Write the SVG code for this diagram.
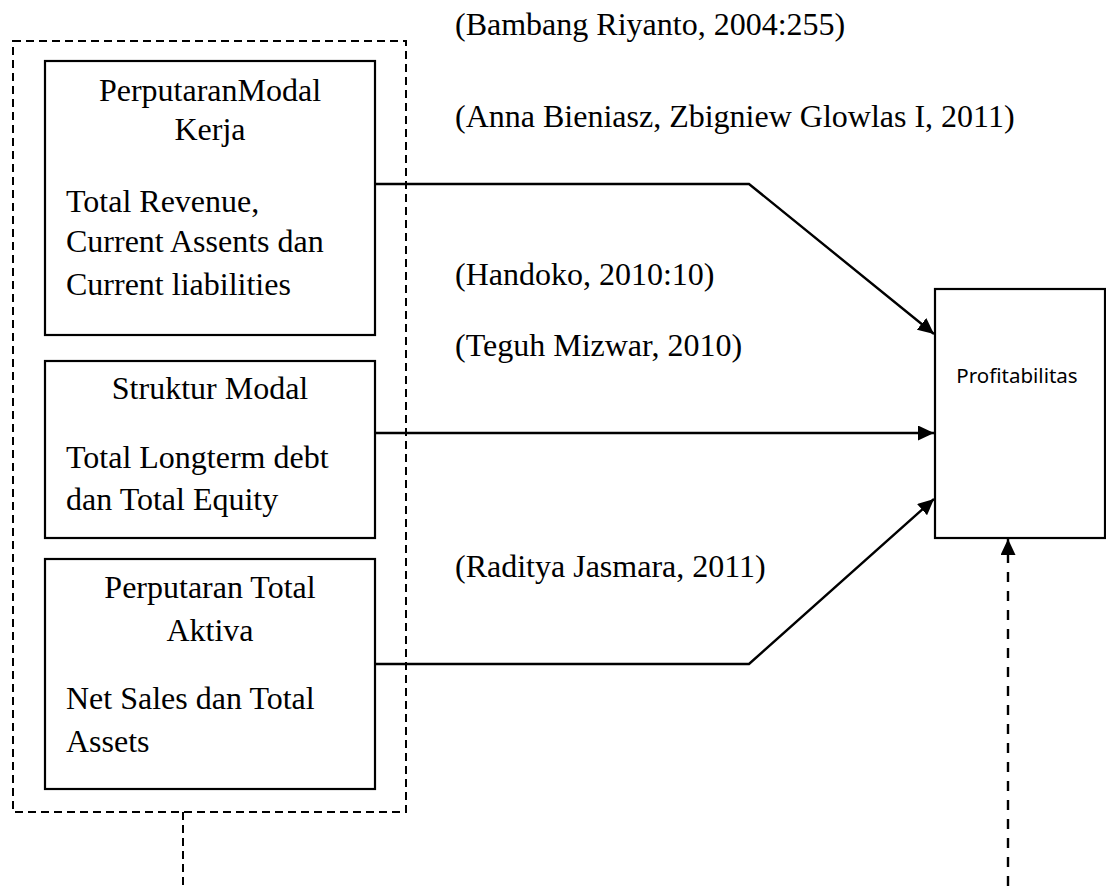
<svg xmlns="http://www.w3.org/2000/svg" width="1106" height="886" viewBox="0 0 1106 886">
<style>
.t{font-family:"Liberation Serif","Times New Roman",serif;font-size:32px;fill:#000}
.c{text-anchor:middle}
.box{fill:#fff;stroke:#000;stroke-width:2.2}
.dash{fill:none;stroke:#000;stroke-width:2;stroke-dasharray:8 5}
.conn{fill:none;stroke:#000;stroke-width:2.4}
.s{font-family:"Noto Sans","Open Sans",sans-serif;font-size:20.5px;fill:#000;text-anchor:middle}
</style>
<defs>
<marker id="ah" markerWidth="16" markerHeight="15" refX="16" refY="7.5" orient="auto" markerUnits="userSpaceOnUse">
<path d="M0,0 L16,7.5 L0,15 Z" fill="#000"/>
</marker>
</defs>
<rect width="1106" height="886" fill="#fff"/>
<g id="group-outer">
<rect class="dash" x="13" y="41" width="393" height="771"/>
</g>
<g id="node-modal-kerja">
<rect class="box" x="45" y="61" width="330" height="274"/>
<text class="t c" x="210" y="101">PerputaranModal</text>
<text class="t c" x="210" y="140">Kerja</text>
<text class="t" x="66" y="212">Total Revenue,</text>
<text class="t" x="66" y="252">Current Assents dan</text>
<text class="t" x="66" y="295">Current liabilities</text>
</g>
<g id="node-struktur-modal">
<rect class="box" x="45" y="361" width="330" height="177"/>
<text class="t c" x="210" y="399">Struktur Modal</text>
<text class="t" x="66" y="468">Total Longterm debt</text>
<text class="t" x="66" y="510">dan Total Equity</text>
</g>
<g id="node-total-aktiva">
<rect class="box" x="45" y="559" width="330" height="230"/>
<text class="t c" x="210" y="598">Perputaran Total</text>
<text class="t c" x="210" y="641">Aktiva</text>
<text class="t" x="66" y="709">Net Sales dan Total</text>
<text class="t" x="66" y="752">Assets</text>
</g>
<g id="node-profitabilitas">
<rect class="box" x="935" y="289" width="170" height="249"/>
<text class="s" x="1017" y="383">Profitabilitas</text>
</g>
<g id="labels">
<text class="t" x="455" y="35">(Bambang Riyanto, 2004:255)</text>
<text class="t" x="455" y="127">(Anna Bieniasz, Zbigniew Glowlas I, 2011)</text>
<text class="t" x="455" y="285">(Handoko, 2010:10)</text>
<text class="t" x="455" y="356">(Teguh Mizwar, 2010)</text>
<text class="t" x="455" y="577">(Raditya Jasmara, 2011)</text>
</g>
<g id="connectors">
<polyline class="conn" points="375,184 749,184 934,334" marker-end="url(#ah)"/>
<line class="conn" x1="375" y1="433" x2="934" y2="433" marker-end="url(#ah)"/>
<polyline class="conn" points="375,664 749,664 934,499" marker-end="url(#ah)"/>
<line class="dash" x1="183" y1="812" x2="183" y2="886"/>
<line class="conn" x1="1008" y1="886" x2="1008" y2="539" style="stroke-dasharray:10 9" marker-end="url(#ah)"/>
</g>
</svg>
